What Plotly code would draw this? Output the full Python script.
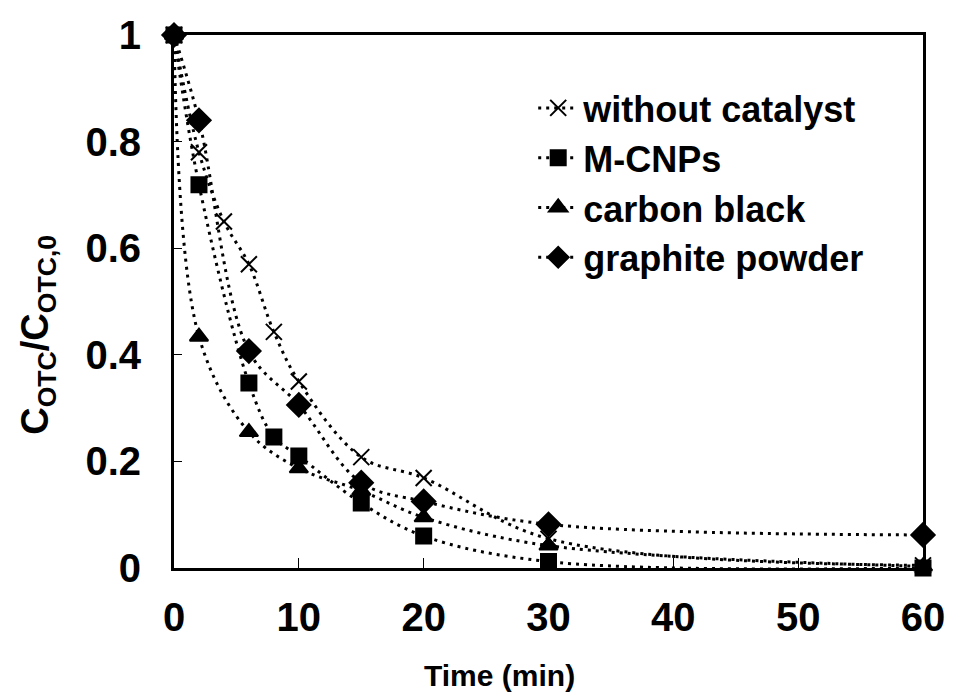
import plotly.graph_objects as go

# Reaction time (min) and normalised OTC concentration for each system
t_without = [0, 2, 4, 6, 8, 10, 15, 20, 30, 60]
c_without = [1.0, 0.78, 0.65, 0.57, 0.443, 0.35, 0.208, 0.169, 0.055, 0.005]

t_mcnp = [0, 2, 6, 8, 10, 15, 20, 30, 60]
c_mcnp = [1.0, 0.719, 0.347, 0.246, 0.21, 0.122, 0.06, 0.012, 0.0]

t_cb = [0, 2, 6, 10, 15, 20, 30, 60]
c_cb = [1.0, 0.434, 0.255, 0.187, 0.145, 0.095, 0.042, 0.003]

t_gp = [0, 2, 6, 10, 15, 20, 30, 60]
c_gp = [1.0, 0.84, 0.407, 0.306, 0.16, 0.125, 0.082, 0.062]

series = [
    ("without catalyst", t_without, c_without, "x-thin", 16),
    ("M-CNPs", t_mcnp, c_mcnp, "square", 15),
    ("carbon black", t_cb, c_cb, "triangle-up", 16),
    ("graphite powder", t_gp, c_gp, "diamond", 18),
]

x_ticks = [0, 10, 20, 30, 40, 50, 60]
y_ticks = [0, 0.2, 0.4, 0.6, 0.8, 1]
y_labels = ["0", "0.2", "0.4", "0.6", "0.8", "1"]

FONT = "Liberation Sans, Arial, sans-serif"
L, R, T, B = 174, 24, 35, 129
PW, PH = 957 - L - R, 697 - T - B

fig = go.Figure()
for name, t, c, sym, size in series:
    fig.add_trace(go.Scatter(
        x=t, y=c, name=name, mode="lines+markers",
        line=dict(color="black", width=3, dash="3px,5px", shape="spline", smoothing=1),
        marker=dict(symbol=sym, size=size, color="black",
                    line=dict(color="black", width=2)),
        cliponaxis=False,
    ))

fig.update_layout(
    width=957, height=697,
    margin=dict(l=L, r=R, t=T, b=B),
    paper_bgcolor="white", plot_bgcolor="white",
    font=dict(family=FONT, color="black"),
    showlegend=True,
    legend=dict(
        x=(538 - L) / PW, y=(568 - 78) / PH, xanchor="left", yanchor="top",
        bgcolor="rgba(0,0,0,0)",
        font=dict(size=36, family=FONT, weight="bold"),
        itemwidth=40,
    ),
    xaxis=dict(
        range=[0, 60], tickvals=x_ticks, ticktext=[str(v) for v in x_ticks],
        showline=True, linecolor="black", linewidth=3, mirror=True,
        ticks="inside", ticklen=10, tickwidth=1, tickcolor="black",
        showgrid=False, zeroline=False,
        tickfont=dict(size=40, family=FONT, weight="bold"),
        ticklabelstandoff=12,
    ),
    yaxis=dict(
        range=[0, 1], tickvals=y_ticks, ticktext=y_labels,
        showline=True, linecolor="black", linewidth=3, mirror=True,
        ticks="inside", ticklen=8, tickwidth=1, tickcolor="black",
        showgrid=False, zeroline=False,
        tickfont=dict(size=40, family=FONT, weight="bold"),
        ticklabelstandoff=22,
    ),
    annotations=[
        dict(text="Time (min)", xref="paper", yref="paper",
             x=(504 - L) / PW, y=(568 - 675) / PH, xanchor="center", yanchor="middle",
             showarrow=False, font=dict(size=30, family=FONT, weight="bold")),
        dict(text="C<sub>OTC</sub>/C<sub>OTC,0</sub>", xref="paper", yref="paper",
             x=(36 - L) / PW, y=(568 - 335) / PH, xanchor="center", yanchor="middle",
             textangle=-90, showarrow=False,
             font=dict(size=38, family=FONT, weight="bold")),
    ],
)

fig.write_html("out.html")
